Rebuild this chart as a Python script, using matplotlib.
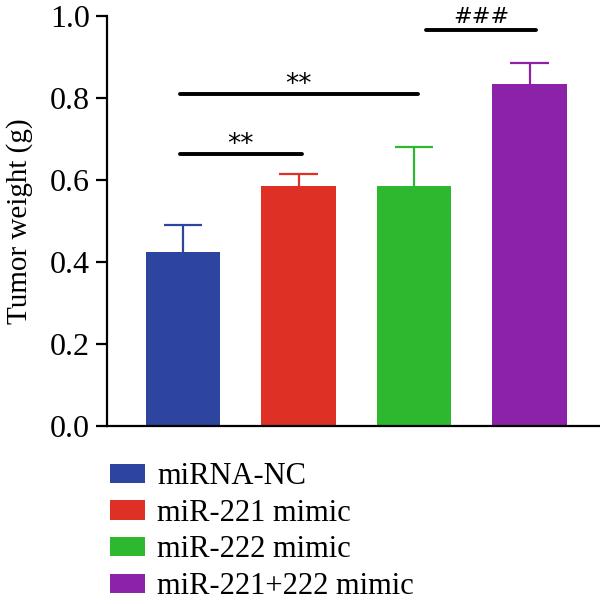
import numpy as np
import matplotlib.pyplot as plt
from matplotlib import font_manager
from matplotlib.patches import Patch

serif = 'DejaVu Serif'
for name in ['Liberation Serif', 'Times New Roman', 'Nimbus Roman']:
    try:
        font_manager.findfont(name, fallback_to_default=False)
        serif = name
        break
    except Exception:
        pass
plt.rcParams['font.family'] = [serif, 'DejaVu Serif']

groups = ['miRNA-NC', 'miR-221 mimic', 'miR-222 mimic', 'miR-221+222 mimic']
means = [0.425, 0.585, 0.585, 0.833]
errs = [0.064, 0.030, 0.096, 0.053]
colors = ['#2E45A0', '#DE3024', '#2DB82F', '#8B22A8']

# significance brackets: (start group, end group, y, label, label baseline)
brackets = [(0, 1, 0.663, '**', 0.668), (0, 2, 0.809, '**', 0.815),
            (2.13, 3.03, 0.966, '###', 0.982)]

fig = plt.figure(figsize=(6, 6.04), dpi=100)
ax = fig.add_axes([0.178, 0.2947, 0.822, 0.679])

x = np.arange(len(groups))
tops = np.array(means) + np.array(errs)
ax.bar(x, means, width=0.645, color=colors, zorder=2)
ax.vlines(x, means, tops, colors=colors, lw=1.6, zorder=1)
ax.hlines(tops, x - 0.165, x + 0.165, colors=colors, lw=1.6, zorder=1)

for x0, x1, y, lab, ty in brackets:
    ax.plot([x0 - 0.03, x1 + 0.03], [y, y], color='black', lw=2.8,
            solid_capstyle='round')
    ax.text((x0 + x1) / 2, ty, lab, ha='center', va='baseline',
            fontsize=19 if lab == '**' else 16, family='DejaVu Sans')

ax.set_xlim(-0.66, 3.61)
ax.set_ylim(0, 1.0)
ax.set_yticks([0, 0.2, 0.4, 0.6, 0.8, 1.0])
ax.set_yticklabels(['0.0', '0.2', '0.4', '0.6', '0.8', '1.0'])
ax.set_xticks([])
ax.spines['top'].set_visible(False)
ax.spines['right'].set_visible(False)
ax.spines['left'].set_linewidth(1.6)
ax.spines['bottom'].set_linewidth(1.6)
ax.tick_params(axis='y', labelsize=23, length=8, width=1.6, pad=4)
ax.set_ylabel('Tumor weight (g)', fontsize=21, labelpad=12)

handles = [Patch(facecolor=c, label=g) for c, g in zip(colors, groups)]
fig.legend(handles=handles, loc='upper left', bbox_to_anchor=(0.163, 0.255),
           frameon=False, fontsize=22, handlelength=1.15, handleheight=0.6,
           handletextpad=0.4, labelspacing=0.25, borderaxespad=0)

fig.savefig('out.png', dpi=100)
